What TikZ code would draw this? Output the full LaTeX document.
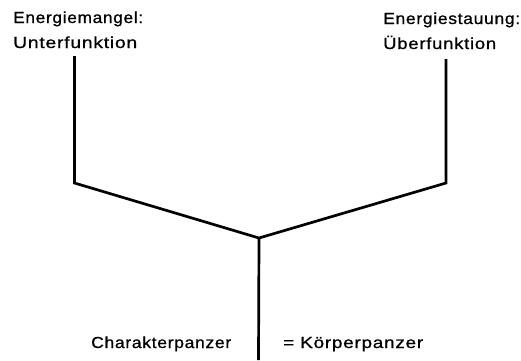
\documentclass[tikz,border=0pt]{standalone}
\usepackage{fontspec}
\usepackage{graphicx}
\setmainfont{Liberation Sans}[LetterSpace=4,FakeBold=0.8]
\newcommand{\fitto}[2]{\resizebox{#1}{\height}{#2}}
\begin{document}
\begin{tikzpicture}[x=1pt,y=-1pt,
  lbl/.style={anchor=base west,inner sep=0pt,font=\fontsize{16}{19}\selectfont},
  stroke/.style={line width=2.7pt,line join=miter,line cap=butt}]
\useasboundingbox (0,0) rectangle (521,360);
\node[lbl] (lt1) at (13,23) {\fitto{130pt}{Energiemangel:}};
\node[lbl] (lt2) at (13,48) {\fitto{124pt}{Unterfunktion}};
\node[lbl] (rt1) at (383,24) {\fitto{137pt}{Energiestauung:}};
\node[lbl] (rt2) at (383,49) {\fitto{113pt}{Überfunktion}};
\node[lbl] (bl) at (91,348) {\fitto{140pt}{Charakterpanzer}};
\node[lbl] (br) at (283,348) {\fitto{140pt}{= Körperpanzer}};
\coordinate (ltop) at (74.5,56);
\coordinate (lcorner) at (74.5,183);
\coordinate (junc) at (259,238);
\coordinate (rcorner) at (446,183);
\coordinate (rtop) at (446,59);
\coordinate (bottom) at (258.5,360);
\draw[stroke] (ltop) -- (lcorner) -- (junc) -- (rcorner) -- (rtop);
\draw[stroke] (junc) -- (bottom);
\end{tikzpicture}
\end{document}
